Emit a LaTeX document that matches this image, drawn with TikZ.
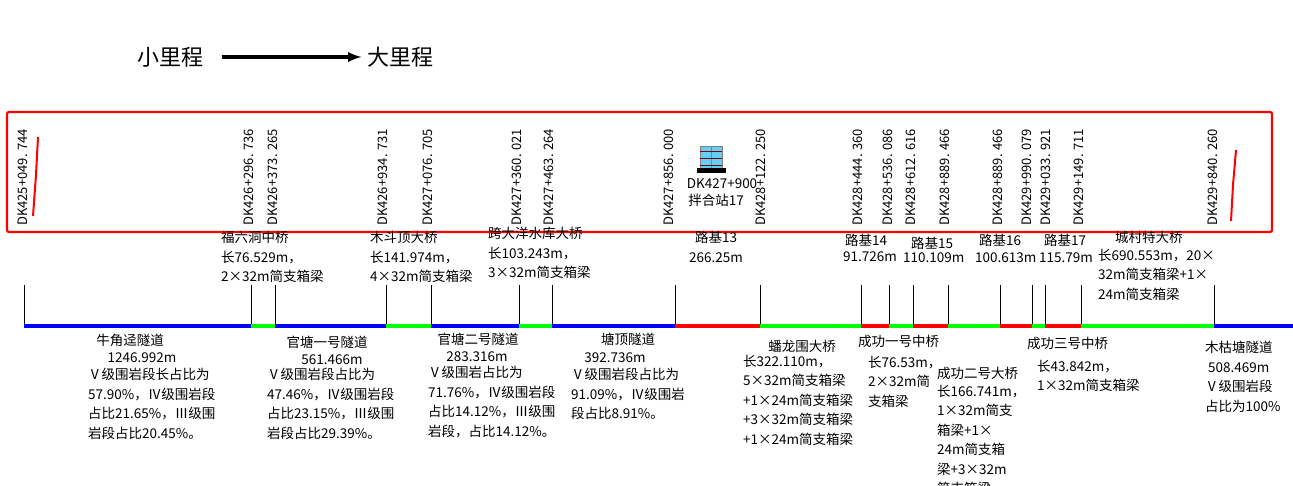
\documentclass[tikz,border=0pt]{standalone}
\usepackage{fontspec}
\setmainfont{Noto Sans CJK SC}
\begin{document}
\begin{tikzpicture}[x=1pt,y=-1pt,
  lab/.style={font=\fontsize{13.5}{19.5}\selectfont,inner sep=0pt},
  lft/.style={lab,anchor=west,align=left},
  ctr/.style={lab,anchor=center,align=center},
  rot/.style={font=\fontsize{13}{13}\selectfont,rotate=90,anchor=west,inner sep=0pt},
  seg/.style={line width=4pt}]
\useasboundingbox (0,0) rectangle (1293,485);
% direction arrow
\node[font=\fontsize{22}{22}\selectfont] (s) at (170,57) {小里程};
\node[font=\fontsize{22}{22}\selectfont] (b) at (400,57) {大里程};
\draw[line width=3.5pt,-{latex}] (s.east)++(15,0) coordinate (a1) -- ([xshift=-2]b.west);
% red box
\draw[red,line width=2.2pt,rounded corners=2pt] (7,112) rectangle (1272,232);
\draw[red,line width=2pt] (38,137) -- (36,175) -- (33,216);
\draw[red,line width=2pt] (1236,150) -- (1233,185) -- (1231,221);
% chainage labels
\foreach \x/\t in {23/{DK425+049. 744},249/{DK426+296. 736},273/{DK426+373. 265},383/{DK426+934. 731},428/{DK427+076. 705},517/{DK427+360. 021},549/{DK427+463. 264},669/{DK427+856. 000},761/{DK428+122. 250},858/{DK428+444. 360},888/{DK428+536. 086},911/{DK428+612. 616},945/{DK428+889. 466},998/{DK428+889. 466},1027/{DK429+990. 079},1046/{DK429+033. 921},1079/{DK429+149. 711},1213/{DK429+840. 260}}
  \node[rot] at (\x,226) {\t};
% mixing station icon
\fill[cyan!60!white,draw=gray] (700,146) rectangle (711,168);
\fill[cyan!60!white,draw=gray] (711,146) rectangle (722,168);
\foreach \yy in {151,158,165} \draw[red!50!black,line width=1pt] (700,\yy) -- (722,\yy);
\fill[black] (697,168) rectangle (726,173);
\node[lab] (ms) at (722,184) {DK427+900};
\node[lab] (ms2) at (716,200) {拌合站17};
% ticks
\foreach \x in {24,251,275,386,431,519,552,675,760,861,889,913,948,1000,1032,1045,1081,1214}
  \draw[line width=0.8pt] (\x,285) coordinate (t\x) -- (\x,326);
% colored line
\foreach \a/\b/\c in {24/251/blue,251/275/green,275/386/blue,386/431/green,431/519/blue,519/552/green,552/675/blue,675/760/red,760/861/green,861/889/red,889/913/green,913/948/red,948/1000/green,1000/1032/red,1032/1045/green,1045/1081/red,1081/1214/green,1214/1293/blue}
  \draw[seg,\c] (\a,326) -- (\b,326);
% upper labels
\node[lft,anchor=north west] at (221,231) {福六洞中桥\\长76.529m，\\2×32m简支箱梁};
\node[lft,anchor=north west] at (370,231) {木斗顶大桥\\长141.974m，\\4×32m简支箱梁};
\node[lft,anchor=north west] at (488,227) {跨大洋水库大桥\\长103.243m，\\3×32m简支箱梁};
\node[ctr,anchor=north] at (716,231) {路基13\\266.25m};
\node[lft] at (845,240) {路基14};\node[lft] at (843,257) {91.726m};
\node[lft] at (911,243) {路基15};\node[lft] at (903,258) {110.109m};
\node[lft] at (979,240) {路基16};\node[lft] at (975,258) {100.613m};
\node[lft] at (1044,240) {路基17};\node[lft] at (1039,258) {115.79m};
\node[lft,anchor=north west] at (1115,231) {城村特大桥};
\node[lft,anchor=north west] at (1098,249) {长690.553m，20×\\32m简支箱梁+1×\\24m简支箱梁};
% lower labels
\node[ctr] at (130,340) {牛角迳隧道};\node[ctr] at (142,358) {1246.992m};
\node[lft,anchor=north west] at (88,368) {Ⅴ级围岩段长占比为\\57.90\%，Ⅳ级围岩段\\占比21.65\%，Ⅲ级围\\岩段占比20.45\%。};
\node[ctr] at (327,342) {官塘一号隧道};\node[ctr] at (332,360) {561.466m};
\node[lft,anchor=north west] at (267,368) {Ⅴ级围岩段占比为\\47.46\%，Ⅳ级围岩段\\占比23.15\%，Ⅲ级围\\岩段占比29.39\%。};
\node[ctr] at (478,339) {官塘二号隧道};\node[ctr] at (477,357) {283.316m};
\node[lft,anchor=north west] at (428,366) {Ⅴ级围岩占比为\\71.76\%，Ⅳ级围岩段\\占比14.12\%，Ⅲ级围\\岩段，占比14.12\%。};
\node[ctr] at (628,339) {塘顶隧道};\node[ctr] at (615,358) {392.736m};
\node[lft,anchor=north west] at (571,368) {Ⅴ级围岩段占比为\\91.09\%，Ⅳ级围岩\\段占比8.91\%。};
\node[ctr] at (802,346) {蟠龙围大桥};
\node[lft,anchor=north west] at (743,355) {长322.110m，\\5×32m简支箱梁\\+1×24m简支箱梁\\+3×32m简支箱梁\\+1×24m简支箱梁};
\node[lft] at (858,341) {成功一号中桥};
\node[lft,anchor=north west] at (868,356) {长76.53m，\\2×32m简\\支箱梁};
\node[lft] at (937,373) {成功二号大桥};
\node[lft,anchor=north west] at (937,385) {长166.741m，\\1×32m简支\\箱梁+1×\\24m简支箱\\梁+3×32m\\简支箱梁};
\node[lft] at (1027,343) {成功三号中桥};
\node[lft,anchor=north west] at (1037,360) {长43.842m，\\1×32m简支箱梁};
\node[lft,anchor=north west] at (1205,341) {木枯塘隧道\\\ 508.469m\\Ⅴ级围岩段\\占比为100\%};
\end{tikzpicture}
\end{document}
